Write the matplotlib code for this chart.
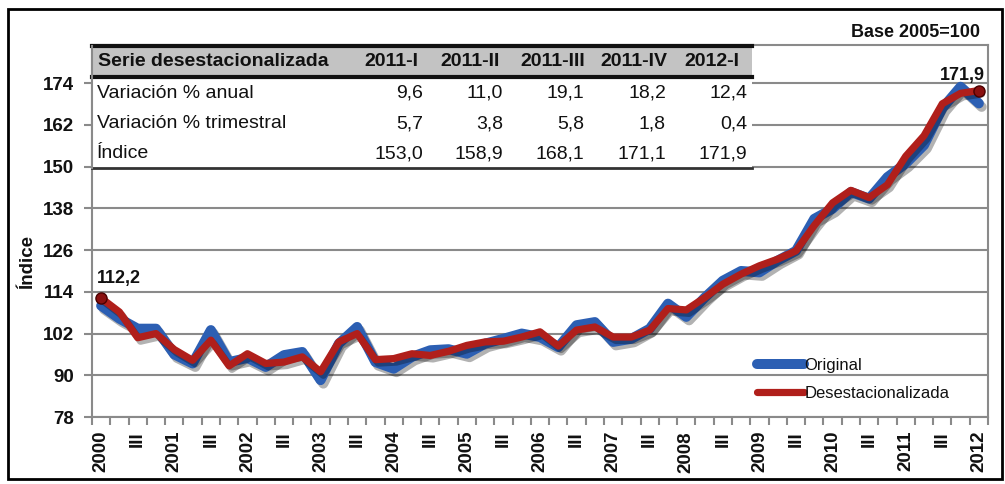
import numpy as np
import matplotlib
matplotlib.use('Agg')
import matplotlib.pyplot as plt
import matplotlib.patheffects as pe
from matplotlib.patches import Rectangle
from matplotlib.lines import Line2D

plt.rcParams['font.family'] = ['Liberation Sans', 'DejaVu Sans']

# quarterly index, base 2005=100, 2000-I .. 2012-I
years = list(range(2000, 2013))
original = [110.0, 106.3, 103.4, 103.4, 96.0, 93.4, 103.0, 93.8, 95.0, 92.4,
            95.8, 96.7, 88.6, 99.1, 103.9, 93.8, 91.9, 95.3, 97.2, 97.5,
            96.2, 99.1, 100.5, 102.0, 101.0, 98.1, 104.4, 105.3, 99.6, 100.5,
            103.4, 110.6, 106.8, 112.3, 117.2, 120.0, 119.6, 123.0, 125.8, 135.0,
            137.9, 142.7, 140.8, 147.0, 150.9, 156.2, 166.8, 173.0, 168.2]
desest = [112.2, 108.2, 100.8, 102.0, 97.4, 94.3, 100.1, 92.7, 96.2, 93.4,
          93.8, 95.3, 91.0, 99.6, 102.0, 94.5, 94.8, 96.2, 95.7, 96.9,
          98.6, 99.6, 99.8, 101.0, 102.5, 98.4, 103.0, 103.9, 101.0, 101.0,
          103.0, 109.2, 108.8, 112.3, 116.2, 119.1, 121.5, 123.4, 125.8, 133.1,
          139.6, 143.2, 141.1, 144.8, 153.0, 158.9, 168.1, 171.1, 171.9]

# table
tab_cols = ['2011-I', '2011-II', '2011-III', '2011-IV', '2012-I']
tab_rows = ['Variación % anual', 'Variación % trimestral', 'Índice']
var_anual = ['9,6', '11,0', '19,1', '18,2', '12,4']
var_trim = ['5,7', '3,8', '5,8', '1,8', '0,4']
indice = ['153,0', '158,9', '168,1', '171,1', '171,9']

xlabels = []
for y in years:
    xlabels += [str(y), '', 'III', '']
xlabels = xlabels[:len(desest)]

W, H = 1005, 484
def fx(px):
    return px / W
def fy(py):
    return 1 - py / H

txt = '#111111'
grid_c = '#8a8a8a'
blue = '#2c5fb3'
red = '#b01f1b'

fig = plt.figure(figsize=(10.05, 4.84), dpi=100)
ax = fig.add_axes([fx(92), fy(417), fx(988) - fx(92), (417 - 45) / H])

x = np.arange(len(desest))
shadow = pe.SimpleLineShadow(offset=(2, -2.5), shadow_color='k', alpha=0.3)
l1, = ax.plot(x, original, color=blue, lw=7.2, solid_joinstyle='round',
              solid_capstyle='round', label='Original', zorder=3,
              path_effects=[shadow, pe.Normal()])
l2, = ax.plot(x, desest, color=red, lw=5.2, solid_joinstyle='round',
              solid_capstyle='round', label='Desestacionalizada', zorder=4,
              path_effects=[shadow, pe.Normal()])
ends = [0, len(desest) - 1]
ax.plot(x[ends], np.array(desest)[ends], 'o', ms=8, color='#8a1010',
        mec='#4a0000', mew=1, zorder=5)

ax.annotate('112,2', (x[0], desest[0]), xytext=(-3, 8), textcoords='offset points',
            ha='left', va='bottom', fontsize=13, fontweight='bold', color=txt)
ax.annotate('171,9', (x[-1], desest[-1]), xytext=(4, 5), textcoords='offset points',
            ha='right', va='bottom', fontsize=13, fontweight='bold', color=txt)

ax.set_xlim(-0.5, len(desest) - 0.5)
ax.set_ylim(78, 185)
ax.set_yticks(np.arange(78, 175, 12))
ax.grid(axis='y', color=grid_c, lw=1.5)
ax.set_axisbelow(True)
for s in ax.spines.values():
    s.set_color(grid_c)
    s.set_linewidth(1.5)

ax.set_xticks(x)
ax.set_xticklabels(xlabels, rotation=90, fontsize=13.5, fontweight='bold', color=txt)
ax.set_xticks(np.arange(-0.5, len(desest), 1), minor=True)
ax.tick_params(axis='x', which='major', length=0, pad=10)
ax.tick_params(axis='x', which='minor', length=6, width=1.5, color=grid_c)
ax.tick_params(axis='y', length=6, width=1.5, color=grid_c, pad=7,
               labelsize=13.5, labelcolor=txt)
for t in ax.get_yticklabels():
    t.set_fontweight('bold')

leg = ax.legend(loc='upper left', bbox_to_anchor=(fx(757), fy(358)),
                bbox_transform=fig.transFigure, frameon=False, fontsize=12,
                handlelength=2.8, handletextpad=0.05, labelspacing=0.75,
                borderpad=0, borderaxespad=0)
for t in leg.get_texts():
    t.set_color(txt)
for h in leg.legend_handles:
    h.set_path_effects([])

# summary table over the plot
fig.patches.append(Rectangle((fx(93), fy(168)), fx(752) - fx(93), (168 - 45) / H,
                             transform=fig.transFigure, facecolor='white',
                             edgecolor='none', zorder=2))
fig.patches.append(Rectangle((fx(93), fy(77)), fx(752) - fx(93), (77 - 46) / H,
                             transform=fig.transFigure, facecolor='#c3c3c3',
                             edgecolor='none', zorder=2))
for yy, lw, c in [(46, 3, '#111111'), (77, 3, '#111111'), (168, 2, '#333333')]:
    fig.lines.append(Line2D([fx(92), fx(752)], [fy(yy), fy(yy)], lw=lw, color=c,
                            transform=fig.transFigure, zorder=3))
fig.lines.append(Line2D([fx(92), fx(92)], [fy(46), fy(168)], lw=1.5, color=grid_c,
                        transform=fig.transFigure, zorder=3))

fig.text(fx(98), fy(62), 'Serie desestacionalizada', ha='left', va='center',
         fontsize=14, fontweight='bold', color=txt, zorder=4)
head_right = [418, 500, 585, 667, 739]
val_right = [423, 503, 584, 666, 747]
row_y = [93, 124, 154]
for cx, lab in zip(head_right, tab_cols):
    fig.text(fx(cx), fy(62), lab, ha='right', va='center', fontsize=14,
             fontweight='bold', color=txt, zorder=4)
for ry, lab, vals in zip(row_y, tab_rows, [var_anual, var_trim, indice]):
    fig.text(fx(97), fy(ry), lab, ha='left', va='center', fontsize=14,
             color=txt, zorder=4)
    for cx, v in zip(val_right, vals):
        fig.text(fx(cx), fy(ry), v, ha='right', va='center', fontsize=14,
                 color=txt, zorder=4)

fig.text(fx(980), fy(33), 'Base 2005=100', ha='right', va='center',
         fontsize=13, fontweight='bold', color=txt)
fig.text(fx(28), fy(262), 'Índice', rotation=90, ha='center', va='center',
         fontsize=13.5, fontweight='bold', color=txt)

fig.patches.append(Rectangle((fx(8), fy(479)), fx(1002) - fx(8), (479 - 9) / H,
                             transform=fig.transFigure, fill=False,
                             edgecolor='black', lw=2, zorder=1))

fig.savefig('out.png', dpi=100)
